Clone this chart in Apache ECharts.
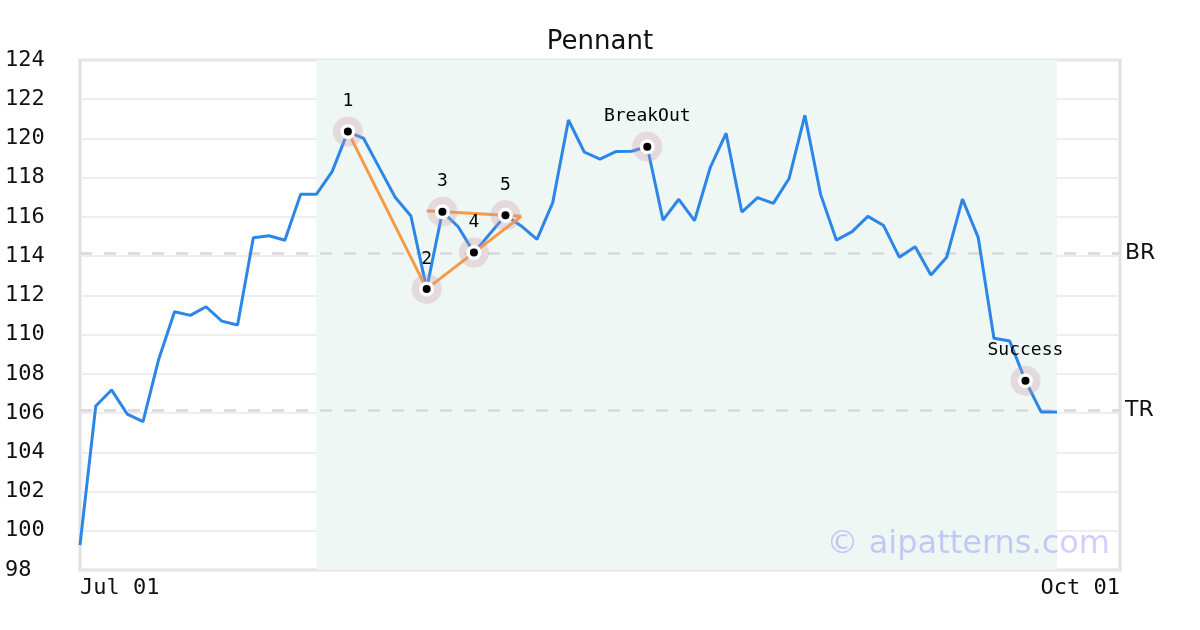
<!DOCTYPE html>
<html>
<head>
<meta charset="utf-8">
<script src="https://cdn.jsdelivr.net/npm/echarts@6/dist/echarts.min.js"></script>
<style>html,body{margin:0;padding:0;background:#fff;}#chart{width:1200px;height:630px;}</style>
</head>
<body>
<div id="chart"></div>
<script>
// Trading-day categories (Jul 01 .. Oct 01)
const categories = [
  "Jul 01","Jul 02","Jul 03","Jul 04","Jul 05","Jul 08","Jul 09","Jul 10","Jul 11","Jul 12",
  "Jul 15","Jul 16","Jul 17","Jul 18","Jul 19","Jul 22","Jul 23","Jul 24","Jul 25","Jul 26",
  "Jul 29","Jul 30","Jul 31","Aug 01","Aug 02","Aug 05","Aug 06","Aug 07","Aug 08","Aug 09",
  "Aug 12","Aug 13","Aug 14","Aug 15","Aug 16","Aug 19","Aug 20","Aug 21","Aug 22","Aug 23",
  "Aug 26","Aug 27","Aug 28","Aug 29","Aug 30","Sep 02","Sep 03","Sep 04","Sep 05","Sep 06",
  "Sep 09","Sep 10","Sep 11","Sep 12","Sep 13","Sep 16","Sep 17","Sep 18","Sep 19","Sep 20",
  "Sep 23","Sep 24","Sep 25","Sep 26","Sep 27","Sep 30","Oct 01"
];
// Price values (one per trading day shown)
const prices = [
  99.27,106.36,107.18,105.95,105.56,108.76,111.17,110.98,111.42,110.69,
  110.49,114.94,115.04,114.81,117.15,117.15,118.31,120.35,120.00,118.50,
  117.00,116.05,112.33,116.27,115.50,114.18,115.13,116.08,115.54,114.86,
  116.73,120.94,119.31,118.95,119.33,119.35,119.58,115.84,116.90,115.81,
  118.53,120.26,116.25,116.98,116.69,117.96,121.18,117.15,114.82,115.25,
  116.03,115.56,113.94,114.48,113.04,113.94,116.91,114.96,109.81,109.67,
  107.65,106.05,106.05
];
// Pattern points
const markerIdx = [17,22,23,25,27,36,60];
const markerLabels = ["1","2","3","4","5","BreakOut","Success"];
// Trend lines [categoryIndex, value]
const trendDown = [[17,120.35],[22,112.33]];
const trendUpper = [[22,116.32],[28,116.03]];
const trendLower = [[22,112.33],[28,116.03]];
// Levels
const levelBR = 114.15;
const levelTR = 106.12;
// Shaded pattern region (category indices)
const regionStart = 15, regionEnd = 62;
// Y axis ticks
const yMin = 98, yMax = 124, yStep = 2;

const mono = "'DejaVu Sans Mono', monospace";
const sans = "'DejaVu Sans', sans-serif";
const orange = '#f79a45';
const blue = '#2c86e8';

const markerData = markerIdx.map((i, k) => ({ value: [i, prices[i]], name: markerLabels[k] }));

const chart = echarts.init(document.getElementById('chart'), null, { renderer: 'canvas' });
chart.setOption({
  animation: false,
  backgroundColor: '#ffffff',
  title: {
    text: 'Pennant', left: 'center', top: 24,
    textStyle: { fontFamily: sans, fontSize: 26, fontWeight: 'normal', color: '#111' }
  },
  grid: { left: 80, right: 80, top: 60, bottom: 60, show: true, borderColor: '#e0e0e0', borderWidth: 3, backgroundColor: 'transparent' },
  xAxis: {
    type: 'category', data: categories, boundaryGap: false,
    axisLine: { show: false }, axisTick: { show: false },
    splitLine: { show: false },
    axisLabel: {
      interval: (i) => i === 0 || i === categories.length - 1,
      showMinLabel: true, showMaxLabel: true,
      alignMinLabel: 'left', alignMaxLabel: 'right',
      fontFamily: mono, fontSize: 22, color: '#111', margin: 7
    }
  },
  yAxis: {
    type: 'value', min: yMin, max: yMax, interval: yStep,
    axisLine: { show: false }, axisTick: { show: false },
    splitLine: { lineStyle: { color: '#e8e8e8', width: 1.5 } },
    axisLabel: { align: 'left', margin: 75, fontFamily: mono, fontSize: 22, color: '#111' }
  },
  graphic: [{
    type: 'text', right: 90, top: 529, z: 10,
    style: { text: '© aipatterns.com', font: "32px 'DejaVu Sans'", fill: 'rgba(0,0,255,0.19)' }
  }],
  series: [
    {
      type: 'line', data: [], z: 1, silent: true,
      markArea: {
        silent: true, z: 0,
        itemStyle: { color: '#eef7f3' },
        data: [[{ xAxis: categories[regionStart] }, { xAxis: categories[regionEnd] }]]
      },
      markLine: {
        silent: true, symbol: 'none', z: 1,
        lineStyle: { color: '#dddddd', type: [12, 12], width: 3 },
        label: { show: true, position: 'end', formatter: '{b}', distance: 5, fontFamily: sans, fontSize: 22, color: '#111' },
        data: [{ yAxis: levelBR, name: 'BR' }, { yAxis: levelTR, name: 'TR' }]
      }
    },
    {
      type: 'line', data: prices, symbol: 'none', z: 2,
      lineStyle: { color: blue, width: 3 }
    },
    { type: 'line', data: trendDown, symbol: 'none', z: 3, lineStyle: { color: orange, width: 3 } },
    { type: 'line', data: trendUpper, symbol: 'none', z: 3, lineStyle: { color: orange, width: 3 } },
    { type: 'line', data: trendLower, symbol: 'none', z: 3, lineStyle: { color: orange, width: 3 } },
    {
      type: 'scatter', data: markerData, symbolSize: 30, z: 4,
      itemStyle: { color: 'rgba(205,150,165,0.3)', opacity: 1 },
      label: { show: true, position: 'top', distance: 6, formatter: '{b}', fontFamily: mono, fontSize: 18, color: '#000' }
    },
    { type: 'scatter', data: markerData, symbolSize: 15, z: 5, itemStyle: { color: '#ffffff', opacity: 1 } },
    { type: 'scatter', data: markerData, symbolSize: 8, z: 6, itemStyle: { color: '#000000', opacity: 1 } }
  ]
});
</script>
</body>
</html>
